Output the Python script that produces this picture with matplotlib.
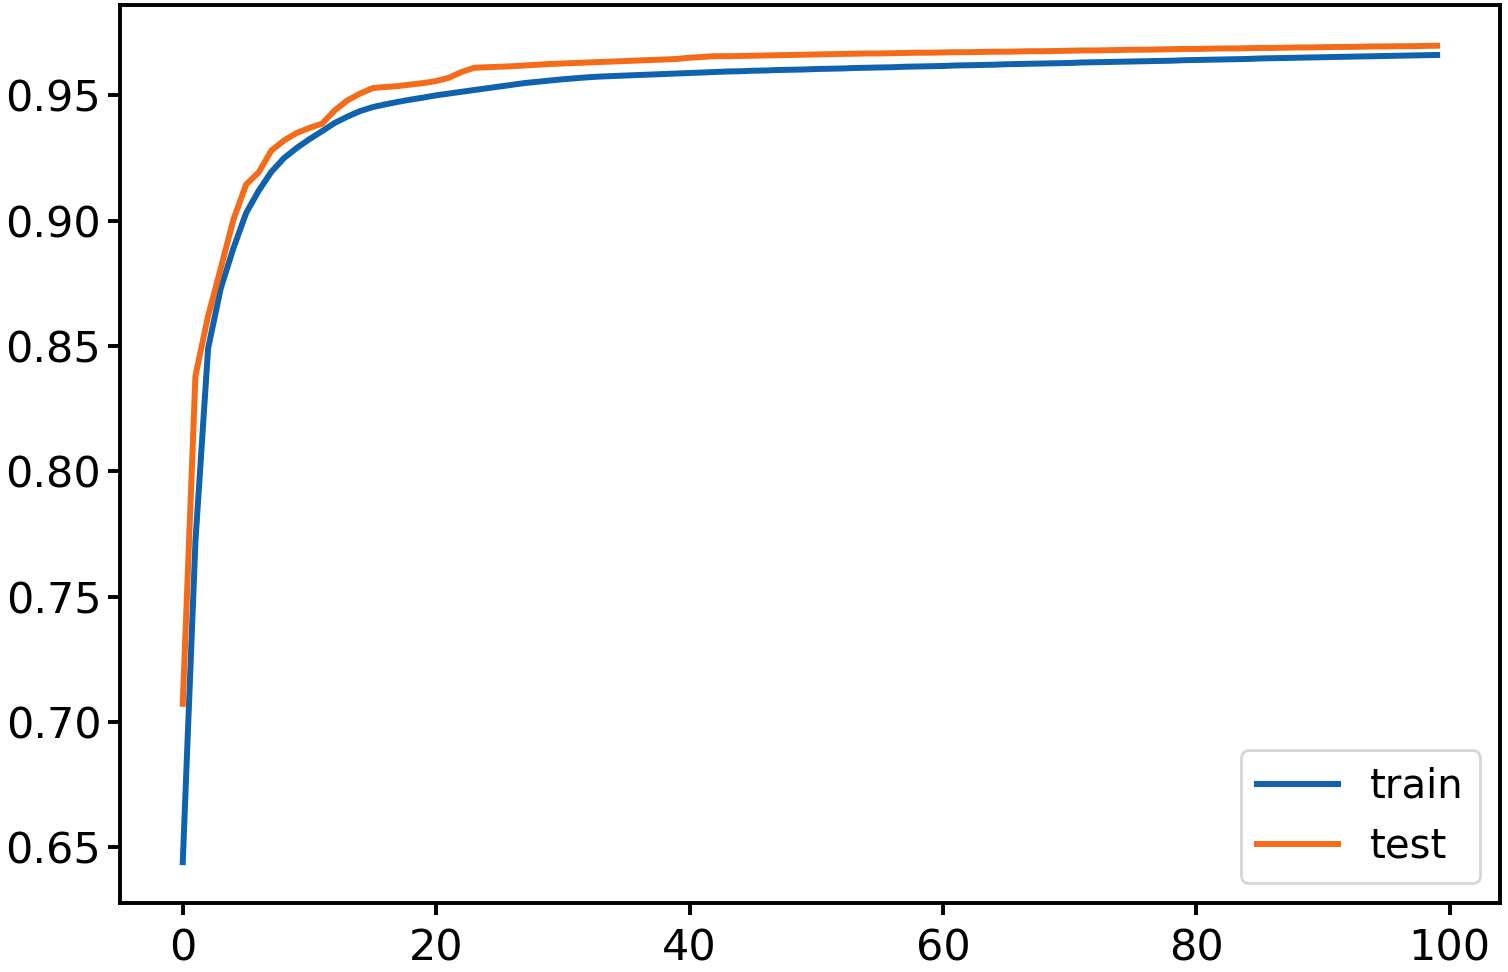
import matplotlib
matplotlib.use('Agg')
import matplotlib.pyplot as plt

# 每個 epoch 的準確率
epochs = list(range(100))

train = [0.644, 0.772, 0.849, 0.873, 0.889, 0.903, 0.912, 0.9195, 0.925, 0.929,
         0.9325, 0.9357, 0.939, 0.9415, 0.9437, 0.9453, 0.9464, 0.9474, 0.9483, 0.9491,
         0.9500, 0.9507, 0.9514, 0.9521, 0.9528, 0.9535, 0.9542, 0.9549, 0.9554, 0.9559,
         0.9564, 0.9568, 0.9572, 0.9575, 0.9577, 0.9579, 0.9581, 0.9583, 0.9585, 0.9587,
         0.9589, 0.9591, 0.9593, 0.9595, 0.9596, 0.9598, 0.9599, 0.9601, 0.9602, 0.9603,
         0.9605, 0.9606, 0.9607, 0.9609, 0.9610, 0.9611, 0.9612, 0.9614, 0.9615, 0.9616,
         0.9617, 0.9619, 0.9620, 0.9621, 0.9622, 0.9624, 0.9625, 0.9626, 0.9627, 0.9628,
         0.9629, 0.9631, 0.9632, 0.9633, 0.9634, 0.9635, 0.9636, 0.9637, 0.9638, 0.9640,
         0.9641, 0.9642, 0.9643, 0.9644, 0.9645, 0.9647, 0.9648, 0.9649, 0.9650, 0.9651,
         0.9652, 0.9653, 0.9654, 0.9655, 0.9656, 0.9657, 0.9658, 0.9659, 0.9660, 0.9661]

test = [0.7072, 0.838, 0.862, 0.881, 0.9004, 0.9144, 0.9193, 0.928, 0.932, 0.935,
        0.937, 0.9387, 0.944, 0.948, 0.9507, 0.9529, 0.9533, 0.9537, 0.9543, 0.9549,
        0.9557, 0.957, 0.9593, 0.961, 0.9612, 0.9614, 0.9616, 0.9619, 0.9622, 0.9625,
        0.9627, 0.9629, 0.9631, 0.9633, 0.9635, 0.9637, 0.9639, 0.9641, 0.9643, 0.9645,
        0.9650, 0.9653, 0.9656, 0.9656, 0.9657, 0.9658, 0.9659, 0.9660, 0.9661, 0.9662,
        0.9663, 0.9664, 0.9665, 0.9666, 0.9667, 0.9667, 0.9668, 0.9669, 0.9670, 0.9670,
        0.9671, 0.9672, 0.9672, 0.9673, 0.9674, 0.9674, 0.9675, 0.9676, 0.9676, 0.9677,
        0.9678, 0.9679, 0.9679, 0.9680, 0.9681, 0.9682, 0.9682, 0.9683, 0.9684, 0.9685,
        0.9685, 0.9686, 0.9687, 0.9687, 0.9688, 0.9689, 0.9689, 0.9690, 0.9691, 0.9691,
        0.9692, 0.9693, 0.9693, 0.9694, 0.9695, 0.9695, 0.9696, 0.9696, 0.9697, 0.9698]

plt.rcParams['font.family'] = ['DejaVu Sans']

fig = plt.figure(figsize=(15.08, 9.72), dpi=100)
ax = fig.add_axes([0.0796, 0.071, 0.915, 0.924])

ax.plot(epochs, train, label='train', color='#1062ac', linewidth=4.3)
ax.plot(epochs, test, label='test', color='#f46c1a', linewidth=4.3)

ax.set_xticks([0, 20, 40, 60, 80, 100])
ax.set_yticks([0.65, 0.70, 0.75, 0.80, 0.85, 0.90, 0.95])
ax.tick_params(labelsize=31, width=2.8, length=8.5, pad=5)
ax.tick_params(axis='x', pad=9)
for s in ax.spines.values():
    s.set_linewidth(2.8)

leg = ax.legend(loc='lower right', fontsize=29)
leg.get_frame().set_linewidth(2.0)

fig.savefig('out.png', dpi=100)
